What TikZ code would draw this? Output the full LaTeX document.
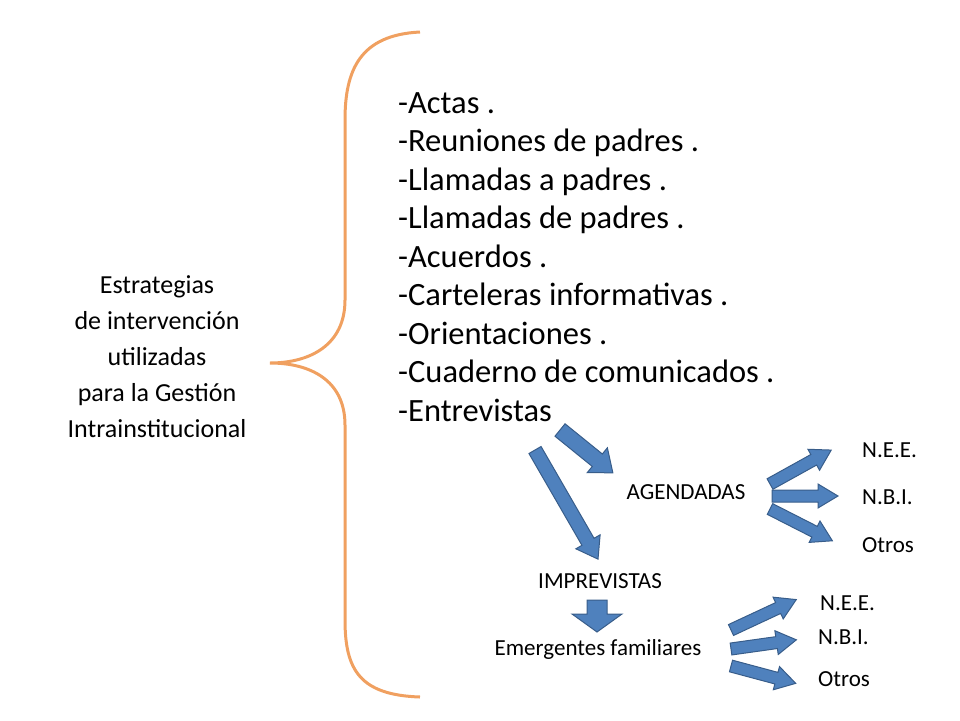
\documentclass[tikz,border=0pt]{standalone}
\usepackage{fontspec}
\setmainfont{Carlito}
\definecolor{bfill}{HTML}{4F81BD}
\definecolor{bline}{HTML}{385D8A}
\definecolor{brace}{HTML}{F0A060}
\newcommand{\blockarrow}[6]{% name, x, y, angle, length, half shaft
\begin{scope}[shift={(#2,#3)},rotate=-#4]
\coordinate (#1) at (0,0);
\filldraw[fill=bfill,draw=bline,line width=1pt] (0,-#6) -- (#5-20,-#6) -- (#5-20,-2*#6) -- (#5,0) -- (#5-20,2*#6) -- (#5-20,#6) -- (0,#6) -- cycle;
\end{scope}}
\begin{document}
\begin{tikzpicture}[x=1pt,y=-1pt,
  big/.style={font=\fontsize{32.5}{38.5}\selectfont,align=left,anchor=north west,inner sep=0},
  left/.style={font=\fontsize{26}{36}\selectfont,align=center,inner sep=0},
  small/.style={font=\fontsize{23}{26}\selectfont,inner sep=0}]
\useasboundingbox (0,0) rectangle (960,720);
\draw[brace,line width=3pt] (420,32) .. controls (360,35) and (345,70) .. (345,120) -- (345,300) .. controls (345,345) and (310,363) .. (270,363) .. controls (310,363) and (345,380) .. (345,425) -- (345,620) .. controls (345,670) and (360,695) .. (420,697);
\node[left] (strat) at (157,357) {Estrategias\\ de intervención\\ utilizadas\\ para la Gestión\\ Intrainstitucional};
\node[big] (list) at (398,92) {-Actas .\\-Reuniones de padres .\\-Llamadas a padres .\\-Llamadas de padres .\\-Acuerdos .\\-Carteleras informativas .\\-Orientaciones .\\-Cuaderno de comunicados .\\-Entrevistas};
\node[small] (ag) at (686,492) {AGENDADAS};
\node[small] (imp) at (600,581) {IMPREVISTAS};
\node[small] (emg) at (598,649) {Emergentes familiares};
\node[small,anchor=west] (n1) at (862,450) {N.E.E.};
\node[small,anchor=west] (n2) at (862,497) {N.B.I.};
\node[small,anchor=west] (n3) at (862,545) {Otros};
\node[small,anchor=west] (m1) at (820,603) {N.E.E.};
\node[small,anchor=west] (m2) at (818,637) {N.B.I.};
\node[small,anchor=west] (m3) at (818,679) {Otros};
\blockarrow{a1}{560}{430}{39}{68}{8}
\blockarrow{a2}{535}{450}{60}{126}{7}
\begin{scope}[shift={(597,600)},rotate=-90]
\coordinate (a3) at (0,0);
\filldraw[fill=bfill,draw=bline,line width=1pt] (0,-10) -- (14,-10) -- (14,-25) -- (32,0) -- (14,25) -- (14,10) -- (0,10) -- cycle;
\end{scope}
\blockarrow{b1}{770}{484}{-29}{70}{6}
\blockarrow{b2}{772}{496}{0}{66}{6}
\blockarrow{b3}{770}{509}{27}{70}{6}
\blockarrow{c1}{731}{630}{-25}{72}{6}
\blockarrow{c2}{731}{649}{-8}{66}{6}
\blockarrow{c3}{731}{666}{15}{67}{6}
\end{tikzpicture}
\end{document}
